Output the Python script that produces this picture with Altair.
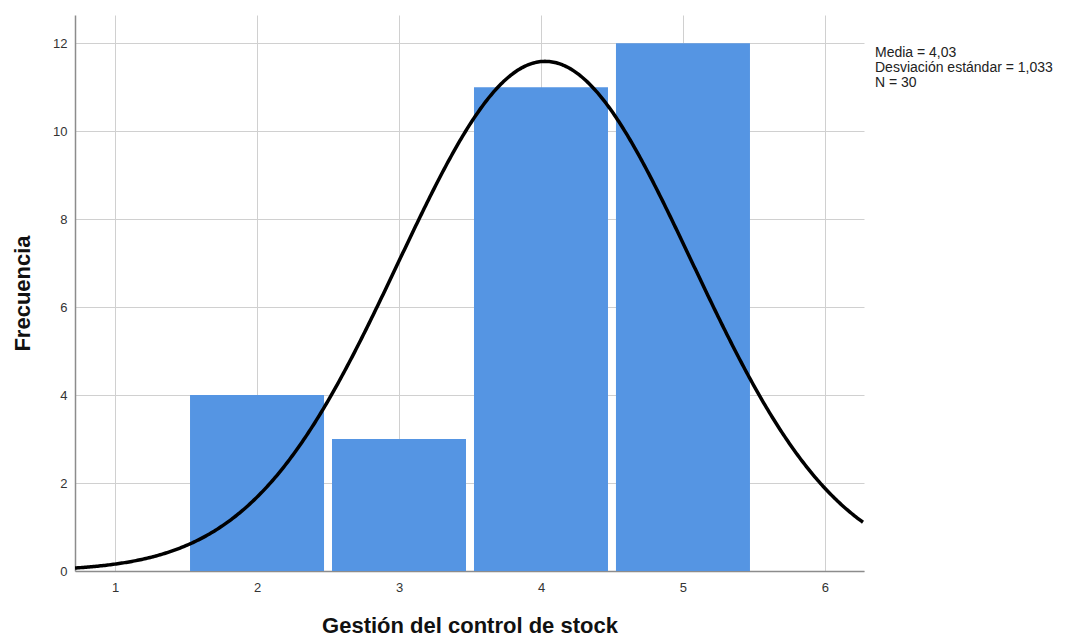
import altair as alt
import pandas as pd

# Data
categorias = [2, 3, 4, 5]
frecuencias = [4, 3, 11, 12]
media = 4.03
desv = 1.033
n = 30
stats_lines = ["Media = 4,03", "Desviación estándar = 1,033", "N = 30"]

bars_df = pd.DataFrame({"valor": categorias, "frecuencia": frecuencias})

xscale = alt.Scale(domain=[0.718, 6.275], nice=False, zero=False, padding=0)
yscale = alt.Scale(domain=[0, 12.64], nice=False, padding=0)

xaxis = alt.Axis(values=[1, 2, 3, 4, 5, 6], format="d", title="Gestión del control de stock",
                 grid=True, ticks=False, labelPadding=10, titlePadding=21,
                 labelFontSize=13, titleFontSize=22, titleFontWeight="bold")
yaxis = alt.Axis(values=[0, 2, 4, 6, 8, 10, 12], format="d", title="Frecuencia",
                 grid=True, ticks=False, labelPadding=8, titlePadding=18,
                 labelFontSize=13, titleFontSize=22, titleFontWeight="bold")

bars = alt.Chart(bars_df).mark_bar(color="#5595e3", width=134).encode(
    x=alt.X("valor:Q", scale=xscale, axis=xaxis),
    y=alt.Y("frecuencia:Q", scale=yscale, axis=yaxis),
)

curve = alt.Chart(alt.sequence(0.718, 6.276, 0.01, as_="x")).transform_calculate(
    y=f"{n}/({desv}*sqrt(2*PI))*exp(-0.5*pow((datum.x-{media})/{desv},2))"
).mark_line(color="black", strokeWidth=3.5, clip=True).encode(
    x=alt.X("x:Q", scale=xscale),
    y=alt.Y("y:Q", scale=yscale),
)

text_layers = []
for i, line in enumerate(stats_lines):
    text_layers.append(
        alt.Chart(pd.DataFrame({"texto": [line]})).mark_text(
            align="left", baseline="middle", fontSize=14, font="Liberation Sans",
            color="#222222"
        ).encode(x=alt.value(800), y=alt.value(38 + i * 15), text="texto:N")
    )

chart = alt.layer(bars, curve, *text_layers).properties(
    width=789, height=556,
    autosize=alt.AutoSizeParams(type="none"),
    padding={"left": 67, "top": 7, "right": 194, "bottom": 66},
).configure_view(stroke=None).configure_axis(
    domainColor="#8c8c8c", domainWidth=1.5, gridColor="#d0d0d0",
    labelColor="#333333", titleColor="#111111", labelFont="Liberation Sans",
    titleFont="Liberation Sans"
)

chart.save("out.html", embed_options={"renderer": "svg", "actions": False})
